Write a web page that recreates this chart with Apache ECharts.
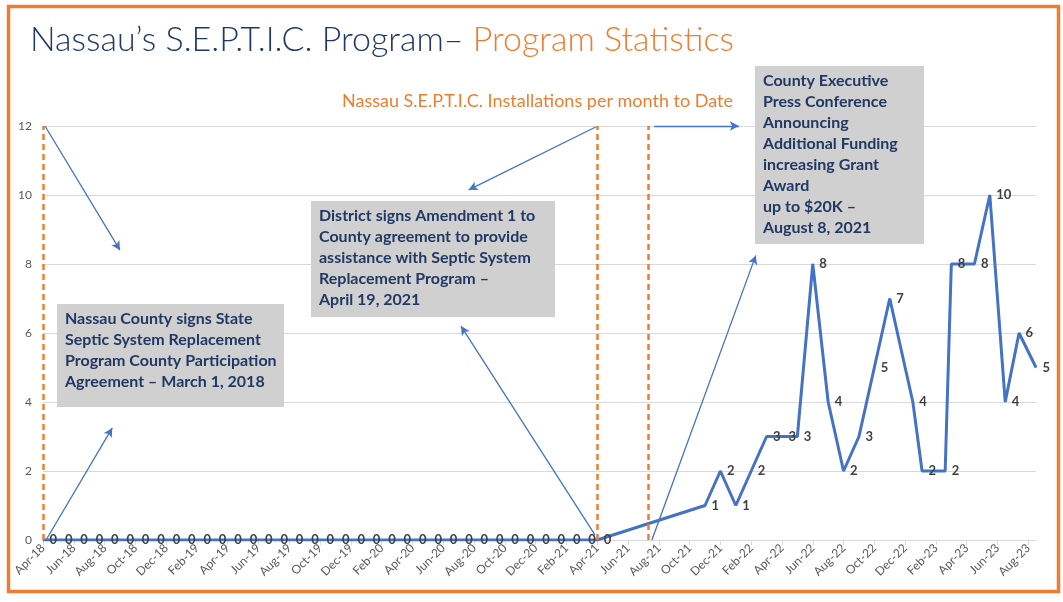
<!DOCTYPE html>
<html>
<head>
<meta charset="utf-8">
<script src="https://cdn.jsdelivr.net/npm/echarts@6/dist/echarts.min.js"></script>
<style>
  html, body { margin: 0; padding: 0; background: #fff; }
  #chart { width: 1063px; height: 602px; }
</style>
</head>
<body>
<div id="chart"></div>
<script>
// month position on the axis (0 = Apr-18)
const monthPos = [
    0, 1, 2, 3, 4, 5, 6, 7, 8, 9, 10, 11, 12, 13, 14, 15, 16, 17, 18,
    19, 20, 21, 22, 23, 24, 25, 26, 27, 28, 29, 30, 31, 32, 33, 34, 35, 36,
    43, 44, 45, 46, 47, 48, 49, 50, 51, 52, 53, 54, 55,
    56.5, 57.1, 58.6, 59, 60.5, 61.5, 62.5, 63.4, 64.5
];
const installs = [
    0, 0, 0, 0, 0, 0, 0, 0, 0, 0, 0, 0, 0, 0, 0, 0, 0, 0, 0,
    0, 0, 0, 0, 0, 0, 0, 0, 0, 0, 0, 0, 0, 0, 0, 0, 0, 0,
    1, 2, 1, 2, 3, 3, 3, 8, 4, 2, 3, 5, 7,
    4, 2, 2, 8, 8, 10, 4, 6, 5
];
const tickLabels = [
    'Apr-18', 'Jun-18', 'Aug-18', 'Oct-18', 'Dec-18', 'Feb-19', 'Apr-19', 'Jun-19', 'Aug-19',
    'Oct-19', 'Dec-19', 'Feb-20', 'Apr-20', 'Jun-20', 'Aug-20', 'Oct-20', 'Dec-20', 'Feb-21',
    'Apr-21', 'Jun-21', 'Aug-21', 'Oct-21', 'Dec-21', 'Feb-22', 'Apr-22', 'Jun-22', 'Aug-22',
    'Oct-22', 'Dec-22', 'Feb-23', 'Apr-23', 'Jun-23', 'Aug-23'
];
// milestone dates (month positions) shown as dashed lines
const milestones = [0, 36, 39.3];

const navy = '#203864';
const orange = '#ed7d31';
const blue = '#4472c4';
const fontStack = 'Lato, "Open Sans", sans-serif';
const boxFont = 'bold 16px Lato, "Open Sans", sans-serif';

const chart = echarts.init(document.getElementById('chart'));

const seriesData = monthPos.map((m, i) => [m, installs[i]]);

function arrow(from, to) {
    return [
        { coord: from, symbol: 'none', lineStyle: { color: blue, width: 1.3, type: 'solid' } },
        { coord: to, symbol: 'arrow', symbolSize: [7, 9] }
    ];
}

const markData = milestones.map(m => [
    { coord: [m, 0], symbol: 'none', lineStyle: { color: orange, width: 2.5, type: [6, 4] } },
    { coord: [m, 12], symbol: 'none' }
]).concat([
    arrow([0.13, 12], [5.0, 8.4]),
    arrow([0.2, 0], [4.5, 3.25]),
    arrow([35.9, 11.97], [27.65, 10.15]),
    arrow([35.85, 0.15], [27.15, 6.2]),
    arrow([39.7, 12], [45.2, 12]),
    arrow([39.55, 0], [46.3, 8.25])
]);

const option = {
    animation: false,
    title: [
        {
            text: '{a|Nassau’s S.E.P.T.I.C. Program–}{b| Program Statistics}',
            left: 25,
            top: 18,
            textStyle: {
                rich: {
                    a: { color: navy, fontSize: 34, fontFamily: fontStack, fontWeight: 300 },
                    b: { color: orange, fontSize: 34, fontFamily: fontStack, fontWeight: 300 }
                }
            }
        },
        {
            text: 'Nassau S.E.P.T.I.C. Installations per month to Date',
            left: 337,
            top: 87,
            textStyle: { color: orange, fontSize: 18, fontWeight: 'normal', fontFamily: fontStack }
        }
    ],
    grid: { left: 43, right: 27, top: 126, bottom: 62 },
    xAxis: {
        type: 'value',
        min: 0,
        max: 64.5,
        interval: 2,
        axisLine: { show: true, lineStyle: { color: '#d9d9d9' } },
        axisTick: { show: true, length: 5, lineStyle: { color: '#d9d9d9' } },
        splitLine: { show: false },
        axisLabel: {
            rotate: 45,
            margin: 6,
            color: '#595959',
            fontSize: 12,
            fontFamily: fontStack,
            showMaxLabel: false,
            formatter: v => (v % 2 === 0 ? (tickLabels[v / 2] || '') : '')
        }
    },
    yAxis: {
        type: 'value',
        min: 0,
        max: 12,
        interval: 2,
        axisLine: { show: false },
        axisTick: { show: false },
        splitLine: { lineStyle: { color: '#d9d9d9', width: 1 } },
        axisLabel: { color: '#595959', fontSize: 12, margin: 11, fontFamily: fontStack }
    },
    series: [
        {
            type: 'line',
            data: seriesData,
            symbol: 'circle',
            symbolSize: 1,
            itemStyle: { color: blue },
            lineStyle: { color: blue, width: 3 },
            label: {
                show: true,
                position: 'right',
                distance: 6,
                color: '#404040',
                fontSize: 13,
                fontWeight: 'bold',
                fontFamily: fontStack
            },
            markLine: {
                silent: true,
                animation: false,
                label: { show: false },
                data: markData
            },
            z: 3
        }
    ],
    graphic: [
        {
            type: 'rect',
            shape: { x: 8.5, y: 6.5, width: 1050, height: 585 },
            style: { fill: 'none', stroke: orange, lineWidth: 3.5 },
            silent: true
        },
        {
            type: 'rect',
            shape: { x: 57, y: 304, width: 227, height: 103 },
            style: { fill: '#d0d0d0' },
            z: 10
        },
        {
            type: 'text',
            x: 65, y: 308,
            style: {
                text: 'Nassau County signs State\nSeptic System Replacement\nProgram County Participation\nAgreement – March 1, 2018',
                font: boxFont, fill: navy, lineHeight: 21, verticalAlign: 'top'
            },
            z: 11
        },
        {
            type: 'rect',
            shape: { x: 311, y: 201, width: 244, height: 116 },
            style: { fill: '#d0d0d0' },
            z: 10
        },
        {
            type: 'text',
            x: 319, y: 205.5,
            style: {
                text: 'District signs Amendment 1 to\nCounty agreement to provide\nassistance with Septic System\nReplacement Program –\nApril 19, 2021',
                font: boxFont, fill: navy, lineHeight: 21, verticalAlign: 'top'
            },
            z: 11
        },
        {
            type: 'rect',
            shape: { x: 755, y: 66, width: 169, height: 178 },
            style: { fill: '#d0d0d0' },
            z: 10
        },
        {
            type: 'text',
            x: 763, y: 70.5,
            style: {
                text: 'County Executive\nPress Conference\nAnnouncing\nAdditional Funding\nincreasing Grant\nAward\nup to $20K –\nAugust 8, 2021',
                font: boxFont, fill: navy, lineHeight: 21, verticalAlign: 'top'
            },
            z: 11
        }
    ]
};

chart.setOption(option);
</script>
</body>
</html>
